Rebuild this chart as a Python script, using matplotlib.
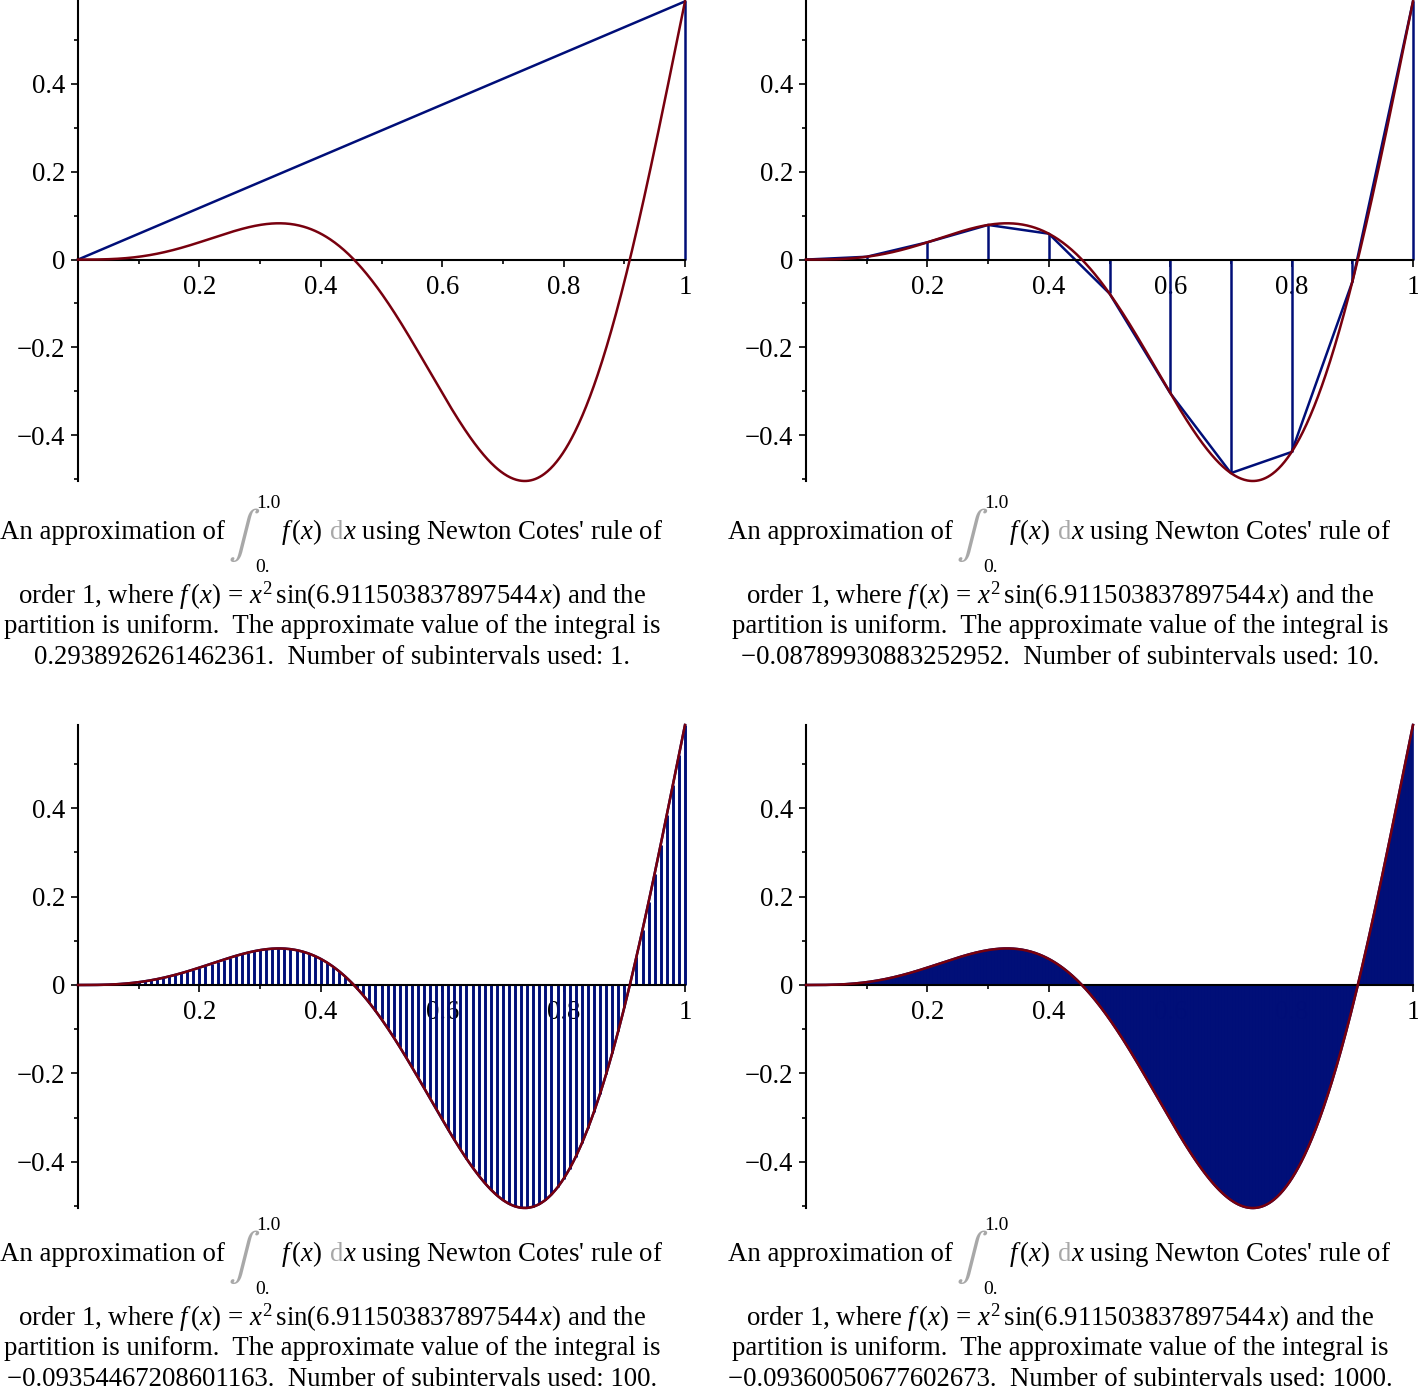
''' Newton Cotes order 1 (trapezoid) approximations, 4 panels '''
import numpy as np
import matplotlib
matplotlib.use('Agg')
import matplotlib.pyplot as plt
from matplotlib.ticker import FixedLocator, MultipleLocator, FuncFormatter

plt.rcParams['font.family'] = ['Liberation Serif', 'DejaVu Serif']
plt.rcParams['mathtext.fontset'] = 'custom'
plt.rcParams['mathtext.rm'] = 'Liberation Serif'
plt.rcParams['mathtext.it'] = 'Liberation Serif:italic'
plt.rcParams['mathtext.bf'] = 'Liberation Serif:bold'

# data, taken from the chart captions
K = 6.911503837897544            # f(x) = x^2 sin(K x)
N_SUB = [1, 10, 100, 1000]
APPROX = ['0.2938926261462361', '\u22120.08789930883252952',
          '\u22120.09354467208601163', '\u22120.09360050677602673']
X_TICKS = [0.2, 0.4, 0.6, 0.8, 1.0]
Y_TICKS = [-0.4, -0.2, 0.0, 0.2, 0.4]

RED = '#78000E'
BLUE = '#000E78'
GREY = '#A8A8A8'
FS = 19.3
W, H = 1418, 1391


def f(x):
    return x ** 2 * np.sin(K * x)


def tick_fmt(v, pos):
    return ('%g' % round(v, 6)).replace('-', '\u2212')


fig = plt.figure(figsize=(W / 100, H / 100), dpi=100)
rend = fig.canvas.get_renderer()

# axes boxes in pixels: left, top, right, bottom
boxes = [(78, 1.4, 685, 481), (806, 1.4, 1413, 481),
         (78, 725, 685, 1208), (806, 725, 1413, 1208)]
cap_x = [332, 1060, 332, 1060]
cap_y = [530, 530, 1252, 1252]

xc = np.linspace(0, 1, 800)
yc = f(xc)

for i, n in enumerate(N_SUB):
    l, t, r, b = boxes[i]
    ax = fig.add_axes([l / W, 1 - b / H, (r - l) / W, (b - t) / H])
    xs = np.linspace(0, 1, n + 1)
    ys = f(xs)
    lw = {1: 1.8, 10: 1.8, 100: 2.1}.get(n, 1.2)
    ax.vlines(xs, 0, ys, color=BLUE, lw=lw, zorder=3, clip_on=False)
    ax.plot(xs, ys, color=BLUE, lw=1.8, zorder=3, clip_on=False)
    ax.plot(xc, yc, color=RED, lw=1.8, zorder=6, clip_on=False)
    ax.set_xlim(0, 1)
    ax.set_ylim(yc.min(), yc.max())

    for s in ['top', 'right']:
        ax.spines[s].set_visible(False)
    ax.spines['bottom'].set_position(('data', 0))
    ax.spines['left'].set_position(('data', 0))
    for s in ['bottom', 'left']:
        ax.spines[s].set_linewidth(1.5)
        ax.spines[s].set_zorder(5)
    ax.xaxis.set_major_locator(FixedLocator(X_TICKS))
    ax.xaxis.set_minor_locator(MultipleLocator(0.1))
    ax.yaxis.set_major_locator(FixedLocator(Y_TICKS))
    ax.yaxis.set_minor_locator(MultipleLocator(0.1))
    ax.xaxis.set_major_formatter(FuncFormatter(tick_fmt))
    ax.yaxis.set_major_formatter(FuncFormatter(tick_fmt))
    ax.tick_params(which='major', direction='out', length=5, width=1.2,
                   labelsize=FS, pad=4)
    ax.tick_params(which='minor', direction='out', length=3, width=1.2)
    ax.tick_params(axis='x', pad=6)
    ax.patch.set_visible(False)

    # caption, line 1 built from pieces
    x0, y0 = cap_x[i], cap_y[i]
    base = y0 + 9
    pieces = []
    pos = [0.0]

    def add(s, gap=0, dy=0, adv=True, **kw):
        kw.setdefault('size', FS)
        tx = fig.text(0, 0, s, va='baseline', ha='left', **kw)
        w = tx.get_window_extent(rend).width
        pieces.append((tx, pos[0] + gap, dy))
        if adv:
            pos[0] += gap + w
        return w

    add('An approximation of')
    add(r'$\int$', gap=3, dy=8, size=34, color=GREY, math_fontfamily='stix')
    add('0.', gap=-5, dy=33, adv=False, size=14)
    add('1.0', gap=-4, dy=-31, size=14)
    add(r'$f\,(x)$', gap=0)
    add('d', gap=8, color=GREY)
    add(r"$x$ using Newton Cotes' rule of", gap=0)
    total = pos[0]
    for tx, px, dy in pieces:
        tx.set_position(((x0 - total / 2 + px) / W, 1 - (base + dy) / H))

    lines = [r'order 1, where $f\,(x)\,=\,x^{2}\,\sin(6.911503837897544\,x)$ and the',
             'partition is uniform.  The approximate value of the integral is',
             '%s.  Number of subintervals used: %d.' % (APPROX[i], n)]
    for j, s in enumerate(lines):
        yy = y0 + 66 + 30.5 * j
        fig.text(x0 / W, 1 - yy / H, s, ha='center', va='center', size=FS)

plt.savefig('out.png', dpi=100)
